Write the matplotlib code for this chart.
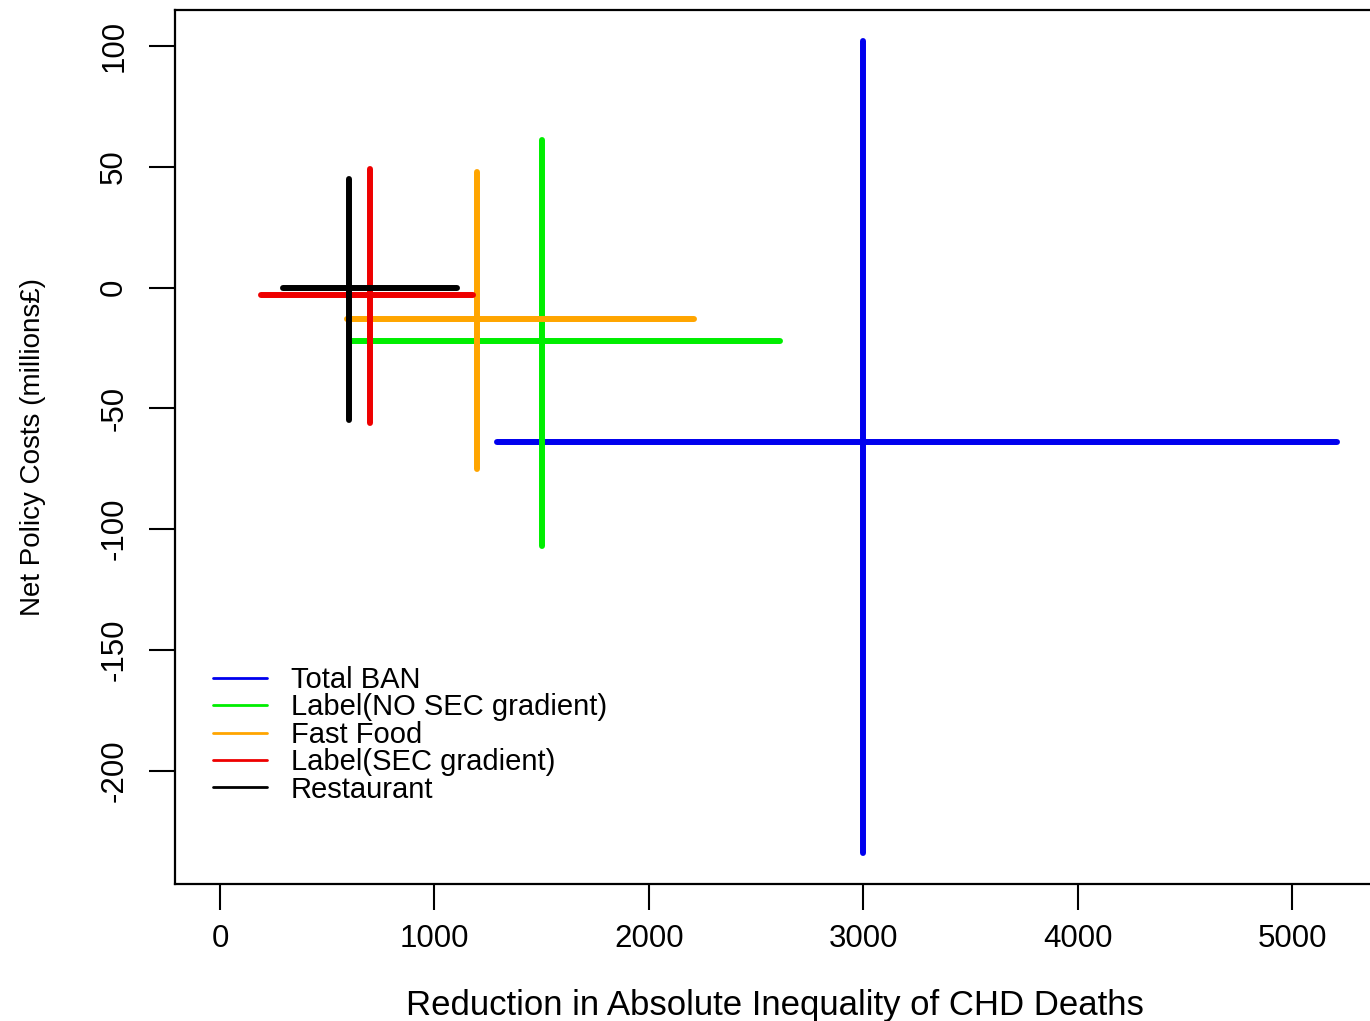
import matplotlib.pyplot as plt

names = ["Total BAN", "Label(NO SEC gradient)", "Fast Food", "Label(SEC gradient)", "Restaurant"]
colors = ["#0000ee", "#00ee00", "#ffa500", "#ee0000", "#000000"]
x_mid = [3000, 1500, 1200, 700, 600]
y_mid = [-64, -22, -13, -3, 0]
x_lo = [1290, 610, 590, 190, 295]
x_hi = [5210, 2610, 2210, 1180, 1105]
y_lo = [-234, -107, -75, -56, -55]
y_hi = [102, 61, 48, 49, 45]

plt.rcParams['font.family'] = ['Liberation Sans', 'DejaVu Sans']
plt.rcParams['axes.unicode_minus'] = False

fig = plt.figure(figsize=(13.7, 10.21), dpi=100)
ax = fig.add_axes([175/1370, 1 - 884/1021, 1200/1370, 874/1021])

for i in range(len(names)):
    ax.plot([x_lo[i], x_hi[i]], [y_mid[i], y_mid[i]], color=colors[i], lw=4.3,
            solid_capstyle='round')
    ax.plot([x_mid[i], x_mid[i]], [y_lo[i], y_hi[i]], color=colors[i], lw=4.3,
            solid_capstyle='round', label=names[i])

ax.set_xlim(-210, 5387)
ax.set_ylim(-247, 115)
ax.set_xticks([0, 1000, 2000, 3000, 4000, 5000])
ax.set_yticks([-200, -150, -100, -50, 0, 50, 100])
ax.tick_params(axis='both', length=19, width=1.5, labelsize=22.5)
ax.tick_params(axis='x', pad=10)
ax.tick_params(axis='y', pad=14)
for lab in ax.get_yticklabels():
    lab.set_rotation(90)
    lab.set_va('center')
for s in ax.spines.values():
    s.set_linewidth(1.6)

ax.set_xlabel("Reduction in Absolute Inequality of CHD Deaths", fontsize=25, labelpad=25)
ax.set_ylabel("Net Policy Costs (millions£)", fontsize=20, labelpad=38)

leg = ax.legend(loc='lower left', bbox_to_anchor=(0.01, 0.062), frameon=False,
                fontsize=21, handlelength=1.85, handletextpad=0.8, labelspacing=-0.02)
for h in leg.legend_handles:
    h.set_linewidth(2)

fig.savefig("out.png", dpi=100)
